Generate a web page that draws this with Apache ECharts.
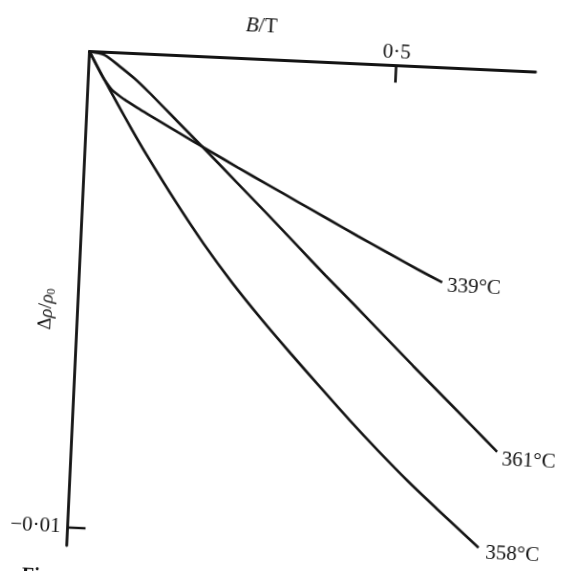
<!DOCTYPE html>
<html>
<head>
<meta charset="utf-8">
<script src="https://cdn.jsdelivr.net/npm/echarts@6/dist/echarts.min.js"></script>
<style>
  html, body { margin:0; padding:0; width:564px; height:571px; overflow:hidden; background:#fff; }
  #chart { position:absolute; left:0; top:0; width:640px; height:640px;
           transform: rotate(2.64deg); transform-origin: 89.5px 51.5px; }
</style>
</head>
<body>
<div id="chart"></div>
<script>
// Field B in tesla (x) and relative magnetoresistance Δρ/ρ0 (y)
const b339 = [0, 0.02, 0.025, 0.04, 0.06, 0.08, 0.10, 0.15, 0.20, 0.25, 0.30, 0.35, 0.40, 0.45, 0.50, 0.55, 0.591];
const d339 = [0, -0.00045, -0.00055, -0.00079, -0.00097, -0.00112, -0.00126, -0.00161, -0.00195, -0.00229, -0.00262, -0.00295, -0.00328, -0.00361, -0.00393, -0.00425, -0.00450];

const b361 = [0, 0.025, 0.05, 0.075, 0.10, 0.125, 0.15, 0.20, 0.25, 0.30, 0.35, 0.40, 0.45, 0.50, 0.55, 0.60, 0.65, 0.693];
const d361 = [0, -0.00006, -0.00028, -0.00052, -0.00080, -0.00110, -0.00140, -0.00200, -0.00261, -0.00322, -0.00384, -0.00446, -0.00506, -0.00567, -0.00628, -0.00688, -0.00748, -0.00800];

const b358 = [0, 0.025, 0.05, 0.075, 0.10, 0.15, 0.20, 0.25, 0.30, 0.35, 0.40, 0.45, 0.50, 0.55, 0.60, 0.67];
const d358 = [0, -0.00055, -0.00108, -0.00160, -0.00210, -0.00304, -0.00392, -0.00472, -0.00545, -0.00614, -0.00681, -0.00747, -0.00810, -0.00870, -0.00926, -0.01003];

const seriesNames = ['339°C', '361°C', '358°C'];
const xTicks = [0.5];
const xTickLabels = ['0·5'];
const yTicks = [-0.01];
const yTickLabels = ['−0·01'];
const xMin = 0, xMax = 0.727;
const yMin = -0.01038, yMax = 0;

const pairs = (xs, ys) => xs.map((x, i) => [x, ys[i]]);
const INK = '#141414';
const SERIF = '"Liberation Serif", "DejaVu Serif", serif';

const chart = echarts.init(document.getElementById('chart'), null, { renderer: 'canvas' });

function curve(name, data, offset) {
  return {
    name: name,
    type: 'line',
    data: data,
    showSymbol: false,
    symbol: 'none',
    smooth: 0.25,
    lineStyle: { color: INK, width: 2.6 },
    endLabel: {
      show: true,
      formatter: name,
      color: INK,
      fontFamily: SERIF,
      fontSize: 21,
      distance: 5,
      offset: offset
    },
    silent: true
  };
}

chart.setOption({
  animation: false,
  backgroundColor: '#fff',
  grid: { left: 89.5, top: 51.5, width: 446.5, height: 494.5, outerBoundsMode: 'none', containLabel: false },
  xAxis: {
    type: 'value',
    position: 'top',
    min: xMin, max: xMax,
    name: '{i|B}/T',
    nameLocation: 'middle',
    nameGap: 23,
    nameMoveOverlap: false,
    nameTextStyle: {
      color: INK, fontFamily: SERIF, fontSize: 21,
      padding: [0, 105, 0, 0],
      rich: { i: { fontStyle: 'italic', fontFamily: SERIF, fontSize: 21, color: INK } }
    },
    axisLine: { show: true, onZero: false, lineStyle: { color: INK, width: 2.8 } },
    axisTick: { show: true, inside: true, length: 17, customValues: xTicks, lineStyle: { color: INK, width: 2.6 } },
    axisLabel: {
      show: true, customValues: xTicks, margin: 3,
      formatter: v => xTickLabels[xTicks.indexOf(v)] || '',
      color: INK, fontFamily: SERIF, fontSize: 21
    },
    splitLine: { show: false }
  },
  yAxis: {
    type: 'value',
    min: yMin, max: yMax,
    name: '{d|Δ}{i|ρ}/{i|ρ}{s|0}',
    nameLocation: 'middle',
    nameGap: 21,
    nameRotate: 90,
    nameMoveOverlap: false,
    nameTextStyle: {
      color: INK, fontFamily: SERIF, fontSize: 19,
      padding: [0, 24, 0, 0],
      rich: {
        d: { fontFamily: SERIF, fontSize: 19, color: INK },
        i: { fontStyle: 'italic', fontFamily: SERIF, fontSize: 19, color: INK },
        s: { fontFamily: SERIF, fontSize: 12, color: INK, padding: [8, 0, 0, 0] }
      }
    },
    axisLine: { show: true, onZero: false, lineStyle: { color: INK, width: 2.8 } },
    axisTick: { show: true, inside: true, length: 18, customValues: yTicks, lineStyle: { color: INK, width: 2.4 } },
    axisLabel: {
      show: true, customValues: yTicks, margin: 7,
      formatter: v => yTickLabels[yTicks.findIndex(t => Math.abs(t - v) < 1e-9)] || '',
      color: INK, fontFamily: SERIF, fontSize: 21
    },
    splitLine: { show: false }
  },
  graphic: [
    { type: 'text', left: 46, top: 569, style: { text: 'Figure', fontFamily: SERIF, fontSize: 20, fontWeight: 'bold', fill: INK } }
  ],
  series: [
    curve(seriesNames[0], pairs(b339, d339), [0, 4]),
    curve(seriesNames[1], pairs(b361, d361), [0, 8]),
    curve(seriesNames[2], pairs(b358, d358), [2, 5])
  ]
});
</script>
</body>
</html>
